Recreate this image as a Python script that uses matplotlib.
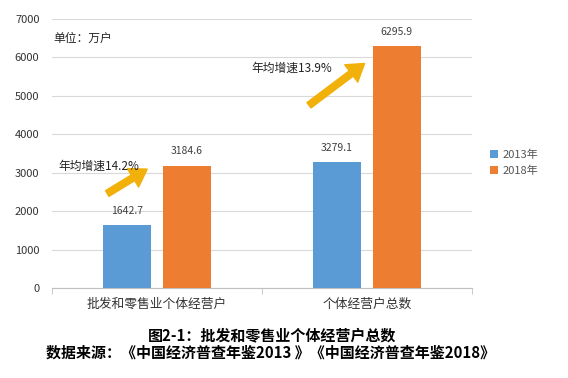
import matplotlib.pyplot as plt
import numpy as np
from matplotlib.patches import FancyArrowPatch

plt.rcParams['font.family'] = ['Noto Sans CJK SC', 'DejaVu Sans']

categories = ['批发和零售业个体经营户', '个体经营户总数']
values_2013 = [1642.7, 3279.1]
values_2018 = [3184.6, 6295.9]
series_names = ['2013年', '2018年']
growth_labels = ['年均增速14.2%', '年均增速13.9%']

blue = '#5B9BD5'
orange = '#ED7D31'

fig = plt.figure(figsize=(5.68, 3.78), dpi=100)
ax = fig.add_axes([0.0915, 0.238, 0.739, 0.712])

x = np.arange(len(categories))
w = 0.229
off = 0.143
b1 = ax.bar(x - off, values_2013, w, color=blue, label=series_names[0], zorder=3)
b2 = ax.bar(x + off, values_2018, w, color=orange, label=series_names[1], zorder=3)

for bars, vals in ((b1, values_2013), (b2, values_2018)):
    for r, v in zip(bars, vals):
        ax.text(r.get_x() + r.get_width() / 2, v + 370, f'{v:.1f}',
                ha='center', va='center', fontsize=7.5, color='#404040')

ax.set_xlim(-0.5, 1.5)
ax.set_ylim(0, 7000)
ax.set_yticks(range(0, 7001, 1000))
ax.yaxis.grid(True, color='#d9d9d9', linewidth=0.8, zorder=0)
ax.set_xticks(x)
ax.set_xticklabels(categories, fontsize=9.2, color='#333333')
ax.set_xticks([-0.5, 0.5, 1.5], minor=True)
ax.tick_params(axis='x', which='major', length=0, pad=7)
ax.tick_params(axis='x', which='minor', length=4, color='#bfbfbf')
ax.tick_params(axis='y', length=0, labelsize=8, labelcolor='#333333', pad=9)
for s in ('top', 'right', 'left'):
    ax.spines[s].set_visible(False)
ax.spines['bottom'].set_color('#bfbfbf')

ax.text(-0.495, 6505, '单位：万户', fontsize=8.5, va='center', color='#222222')

# growth arrows
arrows = [((-0.248, 2420), (-0.035, 3130)), ((0.714, 4710), (1.0, 5885))]
text_pos = [(-0.467, 3175), (0.452, 5725)]
for (p0, p1), (tx, ty), lab in zip(arrows, text_pos, growth_labels):
    ax.add_patch(FancyArrowPatch(p0, p1, arrowstyle='simple,head_width=1.3,head_length=1.0,tail_width=0.4',
                                 mutation_scale=12, color='#F2B10A', zorder=4))
    ax.text(tx, ty, lab, fontsize=8.5, va='center', color='#222222', zorder=5)

leg = fig.legend(handles=[b1, b2], labels=series_names, loc='center left',
                 bbox_to_anchor=(0.8627, 0.569), frameon=False, borderpad=0,
                 borderaxespad=0, fontsize=8, handlelength=0.7, handleheight=0.7,
                 handletextpad=0.4, labelspacing=0.5)
for t in leg.get_texts():
    t.set_color('#555555')

fig.text(0.479, 0.114, '图2-1：批发和零售业个体经营户总数', ha='center', va='center',
         fontsize=10.8, fontweight='bold')
fig.text(0.477, 0.066, '数据来源：《中国经济普查年鉴2013 》《中国经济普查年鉴2018》', ha='center', va='center',
         fontsize=10.8, fontweight='bold')

fig.savefig('out.png', dpi=100)
